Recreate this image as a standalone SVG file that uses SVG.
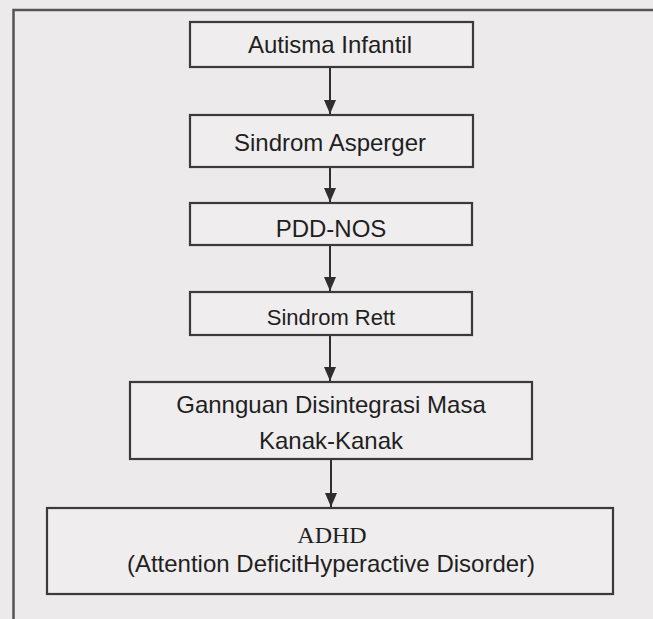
<svg xmlns="http://www.w3.org/2000/svg" width="653" height="619" viewBox="0 0 653 619">
<defs>
<style>
.box{fill:#efedee;stroke:#3a3a3a;stroke-width:2.2}
.t{font-family:"Liberation Sans",Arial,sans-serif;font-size:24px;fill:#1f1f1f;text-anchor:middle}
.s{font-family:"Liberation Serif","Times New Roman",serif;font-size:24px;fill:#1f1f1f;text-anchor:middle}
.ln{stroke:#2e2e2e;stroke-width:2;fill:none}
</style>
<marker id="ah" viewBox="0 0 14 12" refX="14" refY="6" markerWidth="14" markerHeight="12" markerUnits="userSpaceOnUse" orient="auto">
<path d="M0,0 L14,6 L0,12 Z" fill="#2e2e2e"/>
</marker>
</defs>
<rect x="0" y="0" width="653" height="619" fill="#eceaeb"/>
<path d="M13.5,619 V10 H653" fill="none" stroke="#555" stroke-width="2.5"/>
<g id="connectors">
<line class="ln" x1="330" y1="67" x2="330" y2="114" marker-end="url(#ah)"/>
<line class="ln" x1="330" y1="167" x2="330" y2="202" marker-end="url(#ah)"/>
<line class="ln" x1="330" y1="245" x2="330" y2="291" marker-end="url(#ah)"/>
<line class="ln" x1="330" y1="335" x2="330" y2="381" marker-end="url(#ah)"/>
<line class="ln" x1="331" y1="459" x2="331" y2="507" marker-end="url(#ah)"/>
</g>
<g id="n1">
<rect class="box" x="190" y="22" width="283" height="45"/>
<text class="t" x="330" y="53">Autisma Infantil</text>
</g>
<g id="n2">
<rect class="box" x="190" y="115" width="283" height="52"/>
<text class="t" x="330" y="151">Sindrom Asperger</text>
</g>
<g id="n3">
<rect class="box" x="190" y="203" width="282" height="42"/>
<text class="t" x="331" y="237">PDD-NOS</text>
</g>
<g id="n4">
<rect class="box" x="190" y="292" width="282" height="43"/>
<text class="t" x="331" y="325" style="font-size:22px">Sindrom Rett</text>
</g>
<g id="n5">
<rect class="box" x="130" y="382" width="402" height="77"/>
<text class="t" x="331" y="413">Gannguan Disintegrasi Masa</text>
<text class="t" x="331" y="449">Kanak-Kanak</text>
</g>
<g id="n6">
<rect class="box" x="47" y="508" width="566" height="86"/>
<text class="s" x="332" y="543">ADHD</text>
<text class="t" x="331" y="572">(Attention DeficitHyperactive Disorder)</text>
</g>
</svg>
